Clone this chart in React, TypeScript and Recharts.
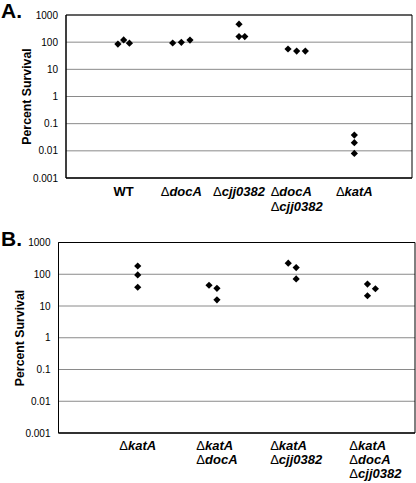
import { ScatterChart, Scatter, XAxis, YAxis, CartesianGrid, ReferenceArea } from "recharts";

const FONT = '"Liberation Sans", Arial, Helvetica, sans-serif';

const yTicks = [0.001, 0.01, 0.1, 1, 10, 100, 1000];

// Panel A: strains, tick positions and replicate values (x = small jitter around the tick)
const labelsA = [["WT"], ["ΔdocA"], ["Δcjj0382"], ["ΔdocA", "Δcjj0382"], ["ΔkatA"]];
const ticksA = [1, 2, 3, 4, 5];
const wtX = [0.9, 1.0, 1.1];
const wtY = [85, 121, 92];
const docX = [1.85, 2.0, 2.15];
const docY = [93, 99, 119];
const cjjX = [3.0, 3.0, 3.1];
const cjjY = [460, 160, 160];
const docCjjX = [3.85, 4.0, 4.15];
const docCjjY = [56, 47, 47];
const katX = [5.0, 5.0, 5.0];
const katY = [0.038, 0.02, 0.008];

// Panel B
const labelsB = [["ΔkatA"], ["ΔkatA", "ΔdocA"], ["ΔkatA", "Δcjj0382"], ["ΔkatA", "ΔdocA", "Δcjj0382"]];
const ticksB = [1, 2, 3, 4];
const katBX = [1.0, 1.0, 1.0];
const katBY = [182, 95, 39];
const katDocX = [1.9, 2.0, 2.0];
const katDocY = [45, 36, 15.6];
const katCjjX = [2.9, 3.0, 3.0];
const katCjjY = [223, 162, 71];
const tripleX = [3.9, 4.0, 3.9];
const tripleY = [49, 35, 21];

const toPoints = (xs: number[], ys: number[]) => xs.map((x, i) => ({ x, y: ys[i] }));

const dataA = [
  ...toPoints(wtX, wtY),
  ...toPoints(docX, docY),
  ...toPoints(cjjX, cjjY),
  ...toPoints(docCjjX, docCjjY),
  ...toPoints(katX, katY),
];
const dataB = [
  ...toPoints(katBX, katBY),
  ...toPoints(katDocX, katDocY),
  ...toPoints(katCjjX, katCjjY),
  ...toPoints(tripleX, tripleY),
];

const LABEL_SIZE = 13;

let ctx: CanvasRenderingContext2D | null = null;
function lineWidth(line: string) {
  if (!ctx) ctx = document.createElement("canvas").getContext("2d");
  if (!ctx) return line.length * 7;
  const hasDelta = line.startsWith("Δ");
  const rest = hasDelta ? line.slice(1) : line;
  let w = 0;
  if (hasDelta) {
    ctx.font = `${LABEL_SIZE}px ${FONT}`;
    w += ctx.measureText("Δ").width;
  }
  ctx.font = `${hasDelta ? "italic " : ""}bold ${LABEL_SIZE}px ${FONT}`;
  w += ctx.measureText(rest).width;
  return w;
}

function makeTick(labels: string[][], ticks: number[], firstDy: number, lineGap: number) {
  return (props: any) => {
    const { x, y, payload } = props;
    const idx = ticks.indexOf(payload.value);
    const lines = labels[idx] || [];
    const block = Math.max(...lines.map(lineWidth));
    const x0 = x - block / 2;
    return (
      <g>
        {lines.map((ln, i) => {
          const hasDelta = ln.startsWith("Δ");
          return (
            <text key={i} x={x0} y={y + firstDy + i * lineGap} textAnchor="start" fontFamily={FONT} fontSize={LABEL_SIZE} fill="#000">
              {hasDelta && <tspan>Δ</tspan>}
              <tspan fontWeight="bold" fontStyle={hasDelta ? "italic" : "normal"}>{hasDelta ? ln.slice(1) : ln}</tspan>
            </text>
          );
        })}
      </g>
    );
  };
}

const Diamond = (props: any) => {
  const { cx, cy } = props;
  const r = 3.6;
  return <polygon points={`${cx},${cy - r} ${cx + r},${cy} ${cx},${cy + r} ${cx - r},${cy}`} fill="#000" />;
};

function Panel({ data, labels, ticks, xMax, width, height, margin, yWidth, xHeight, firstDy, lineGap }: any) {
  return (
    <ScatterChart width={width} height={height} margin={margin}>
      <CartesianGrid vertical={false} stroke="#8a8a8a" />
      <XAxis
        type="number"
        dataKey="x"
        domain={[0, xMax]}
        ticks={ticks}
        interval={0}
        height={xHeight}
        axisLine={{ stroke: "#000" }}
        tickLine={false}
        tickSize={0}
        tickMargin={0}
        tick={makeTick(labels, ticks, firstDy, lineGap)}
      />
      <YAxis
        type="number"
        dataKey="y"
        scale="log"
        domain={[0.001, 1000]}
        ticks={yTicks}
        interval={0}
        allowDataOverflow
        width={yWidth}
        axisLine={{ stroke: "#000" }}
        tickLine={false}
        tickSize={0}
        tickMargin={8}
        tick={{ fontSize: 10, fill: "#000", fontFamily: FONT }}
      />
      <ReferenceArea x1={0} x2={xMax} y1={0.001} y2={1000} fill="none" stroke="#000" strokeWidth={1} />
      <Scatter data={data} shape={<Diamond />} isAnimationActive={false} />
    </ScatterChart>
  );
}

export default function App() {
  return (
    <div style={{ position: "absolute", left: 0, top: 0, width: 416, height: 483, background: "#fff", fontFamily: FONT }}>
      <div style={{ position: "absolute", left: 0, top: 0 }}>
        <Panel
          data={dataA}
          labels={labelsA}
          ticks={ticksA}
          xMax={6}
          width={416}
          height={240}
          margin={{ top: 15, right: 4, bottom: 0, left: 0 }}
          yWidth={66}
          xHeight={62}
          firstDy={18}
          lineGap={14.5}
        />
      </div>
      <div style={{ position: "absolute", left: 0, top: 225 }}>
        <Panel
          data={dataB}
          labels={labelsB}
          ticks={ticksB}
          xMax={4.5}
          width={416}
          height={258}
          margin={{ top: 17.5, right: 1, bottom: 0, left: 0 }}
          yWidth={58.5}
          xHeight={50}
          firstDy={17}
          lineGap={14}
        />
      </div>
      <svg width={416} height={483} style={{ position: "absolute", left: 0, top: 0, pointerEvents: "none" }}>
        <text x={1} y={18} fontFamily={FONT} fontSize={21} fontWeight="bold" fill="#000">A.</text>
        <text x={1} y={246} fontFamily={FONT} fontSize={21} fontWeight="bold" fill="#000">B.</text>
        <text x={27} y={96.5} transform="rotate(-90 27 96.5)" textAnchor="middle" dominantBaseline="central" fontFamily={FONT} fontSize={12.3} fontWeight="bold" fill="#000">
          Percent Survival
        </text>
        <text x={20} y={338} transform="rotate(-90 20 338)" textAnchor="middle" dominantBaseline="central" fontFamily={FONT} fontSize={12.3} fontWeight="bold" fill="#000">
          Percent Survival
        </text>
      </svg>
    </div>
  );
}
